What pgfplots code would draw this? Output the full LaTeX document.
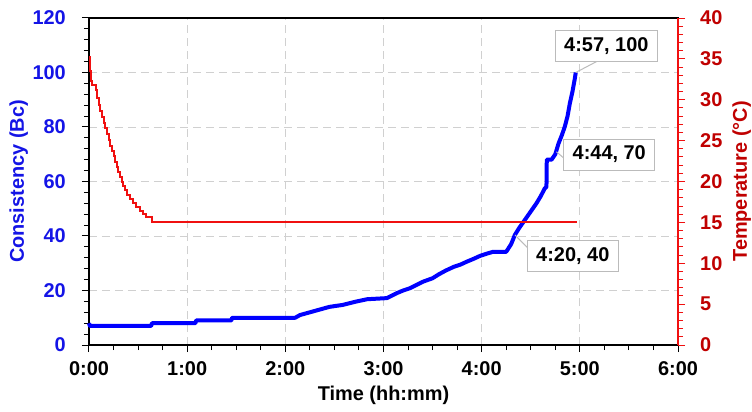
\documentclass[border=0pt]{standalone}
\usepackage{fontspec}
\setmainfont{Liberation Sans}
\usepackage{pgfplots}
\pgfplotsset{compat=1.18}
\definecolor{cblue}{HTML}{0000FF}
\definecolor{tblue}{HTML}{1414E6}
\definecolor{dred}{HTML}{C00000}
\definecolor{lred}{HTML}{F01010}
\definecolor{gridc}{HTML}{D0D0D0}
\definecolor{boxc}{HTML}{BBBBBB}
\newcommand{\bigf}{\fontsize{20}{24}\selectfont\bfseries}
\begin{document}
\begin{tikzpicture}[font=\bigf]
\begin{axis}[
  scale only axis, width=589bp, height=327bp,
  xmin=0, xmax=360, ymin=0, ymax=120,
  xtick={0,60,...,360}, xticklabels={0:00,1:00,2:00,3:00,4:00,5:00,6:00},
  minor x tick num=3,
  ytick={0,20,...,120}, minor y tick num=4,
  xtick pos=bottom, ytick pos=left,
  tick align=outside, major tick length=7bp, minor tick length=5bp,
  grid=major, major grid style={gridc, dash pattern=on 8bp off 5bp, line width=0.8bp},
  axis line style={black, line width=1.2bp},
  tick style={black, line width=1bp},
  /pgf/number format/assume math mode=true,
  tick label style={font=\bigf, inner sep=0pt},
  xticklabel style={anchor=base, yshift=-23bp},
  yticklabel style={tblue, anchor=east, xshift=-16bp},
  xlabel={Time (hh:mm)},
  xlabel style={font=\bigf, at={(axis description cs:0.5,-0.1682)}, anchor=base, inner sep=0pt},
  ylabel={Consistency (Bc)},
  ylabel style={font=\bigf, tblue, at={(axis description cs:-0.1104,0.5)}, anchor=base, inner sep=0pt},
  clip=false,
]
\addplot[cblue, line width=4bp, line join=round] coordinates {
(0,8) (0.5,7) (38,7) (38.5,8) (65,8) (65.5,9) (87,9) (87.5,10) (126,10)
(129,11) (135,12) (141,13) (147,14) (155,14.7) (163,15.9) (170,16.8) (176,17) (182,17.2)
(188,19) (192,20) (196,20.8) (200,22) (204,23.2) (210,24.5) (214,26) (218,27.3)
(223,28.7) (227,29.5) (231,30.6) (235,31.6) (239,32.7) (243,33.5) (247,34.2) (255,34.2)
(258,37) (260.3,40.4) (263,43) (266.4,45.9) (270,49) (273.5,52) (276,54.5) (278.6,57.5)
(279.6,58) (279.8,68) (282.7,68) (285,70) (287,74) (289,77) (290.8,80.1) (292.5,84)
(293.9,88.7) (295.5,93) (297,98) (297.5,100)
};
\draw[boxc, line width=1bp] (axis cs:297.5,100) -- (axis cs:310.2,104);
\draw[boxc, line width=1bp] (axis cs:285.7,70.9) -- (axis cs:290.2,68.6);
\draw[boxc, line width=1bp] (axis cs:260.3,40.4) -- (axis cs:269.4,34.9);
\node[draw=boxc, fill=white, line width=1bp, inner xsep=9bp, inner ysep=7bp] at (axis cs:316.2,109.7) {4:57, 100};
\node[draw=boxc, fill=white, line width=1bp, inner xsep=9bp, inner ysep=7bp] at (axis cs:318,69.9) {4:44, 70};
\node[draw=boxc, fill=white, line width=1bp, inner xsep=9bp, inner ysep=7bp] at (axis cs:295.7,32.8) {4:20, 40};
\end{axis}
\begin{axis}[
  scale only axis, width=589bp, height=327bp,
  xmin=0, xmax=360, ymin=0, ymax=40,
  axis y line*=right, axis x line=none,
  ytick={0,5,...,40}, minor y tick num=4,
  tick align=outside, major tick length=7bp, minor tick length=5bp,
  y axis line style={lred, line width=1.2bp},
  ytick style={lred, line width=1bp},
  /pgf/number format/assume math mode=true,
  tick label style={font=\bigf, inner sep=0pt},
  yticklabel style={dred, anchor=west, xshift=15bp},
  ylabel={Temperature (°C)},
  ylabel style={font=\bigf, dred, at={(axis description cs:1.1171,0.5)}, anchor=base, inner sep=0pt},
]
\addplot[lred, line width=2bp, const plot] coordinates {
(0,35.2) (0.5,33.5) (1,32.3) (2,31.8) (4,31.2) (5,30.2) (6,29.4) (7,28.6) (8,27.9)
(9,27.2) (10,26.5) (11,25.8) (12,25.1) (13,24.4) (14,23.7) (15,23.1) (16,22.4)
(17,21.8) (18,21.2) (19,20.6) (20,20.0) (21,19.4) (22,18.9) (23,18.4) (25,17.9)
(27,17.4) (29,16.9) (31,16.4) (33,16.0) (35,15.6) (38.5,15) (298,15)
};
\end{axis}
\pgfresetboundingbox
\path ([xshift=-89bp,yshift=-67bp]current axis.south west) rectangle ([xshift=74bp,yshift=18bp]current axis.north east);
\end{tikzpicture}
\end{document}
